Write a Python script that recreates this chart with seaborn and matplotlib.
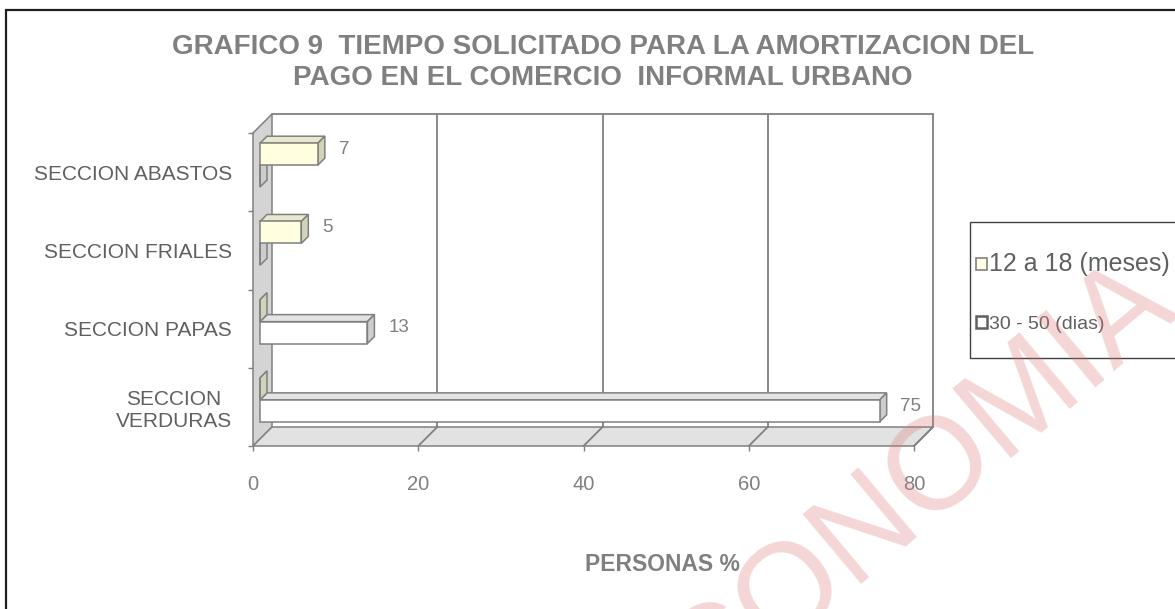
import matplotlib
matplotlib.use('Agg')  # sin pantalla
import matplotlib.pyplot as plt
import matplotlib.transforms as mtransforms
from matplotlib.patches import Polygon, Rectangle, Patch
from matplotlib.lines import Line2D
import pandas as pd
import seaborn as sns

# Datos del grafico
secciones = ['SECCION ABASTOS', 'SECCION FRIALES', 'SECCION PAPAS', 'SECCION\nVERDURAS']
series = ['12 a 18 (meses)', '30 - 50 (dias)']
valores_meses = [7, 5, 0, 0]
valores_dias = [0, 0, 13, 75]
ticks_x = [0, 20, 40, 60, 80]

titulo = 'GRAFICO 9  TIEMPO SOLICITADO PARA LA AMORTIZACION DEL\nPAGO EN EL COMERCIO  INFORMAL URBANO'
etiqueta_x = 'PERSONAS %'
marca_agua = 'ECONOMIA'

df = pd.DataFrame({
    'seccion': secciones * 2,
    'valor': valores_meses + valores_dias,
    'serie': [series[0]] * len(secciones) + [series[1]] * len(secciones),
})

sns.set_style('white')
plt.rcParams['font.family'] = ['Liberation Sans', 'DejaVu Sans']

# colores
amarillo, blanco = '#FFFFE0', '#FFFFFF'
techo = ['#E8E8CE', '#E3E3E3']
lado = ['#D3D3BA', '#CDCDCD']
borde = '#808080'
gris_txt = '#606060'

W, H = 1175, 609
fig = plt.figure(figsize=(W / 100, H / 100), dpi=100)
ax = fig.add_axes([253 / W, 1 - 446 / H, 661 / W, 313 / H])

sns.barplot(data=df, y='seccion', x='valor', hue='serie', orient='h',
            palette=[amarillo, blanco], saturation=1, width=0.56,
            edgecolor=borde, linewidth=1.1, legend=False, ax=ax)

ax.set_xlim(ticks_x[0], ticks_x[-1])
ax.set_ylim(len(secciones) - 0.5, -0.5)
y_min, y_max = -0.5, len(secciones) - 0.5

# profundidad (pixeles) del efecto 3D
D_MURO = 19
D0, D1 = 7, 14
ident = mtransforms.IdentityTransform()


def pt(x, y, d=0):
    px, py = ax.transData.transform((x, y))
    return (px + d, py + d)


def poly(puntos, fc, z, lw=1.1):
    ax.add_patch(Polygon(puntos, closed=True, fc=fc, ec=borde, lw=lw,
                         transform=ident, clip_on=False, zorder=z))


def linea(p0, p1, z, lw=1.3):
    ax.add_line(Line2D([p0[0], p1[0]], [p0[1], p1[1]], color=borde, lw=lw,
                       transform=ident, clip_on=False, zorder=z))


# pared izquierda y piso
poly([pt(0, y_min), pt(0, y_min, D_MURO), pt(0, y_max, D_MURO), pt(0, y_max)], '#D4D4D4', 0.5)
poly([pt(0, y_max), pt(ticks_x[-1], y_max), pt(ticks_x[-1], y_max, D_MURO), pt(0, y_max, D_MURO)], '#E2E2E2', 0.6)

# pared del fondo: bordes y lineas de division
linea(pt(0, y_min, D_MURO), pt(ticks_x[-1], y_min, D_MURO), 0.7)
for t in ticks_x[1:]:
    linea(pt(t, y_min, D_MURO), pt(t, y_max, D_MURO), 0.7)
    linea(pt(t, y_max), pt(t, y_max, D_MURO), 0.7)

# barras con caras superior y lateral
desplaza = mtransforms.ScaledTranslation(D0 / 100, D0 / 100, fig.dpi_scale_trans)
for i, (cont, vals) in enumerate(zip(ax.containers, [valores_meses, valores_dias])):
    z = 3 if i == 0 else 2
    for bar, v in zip(cont, vals):
        bar.set_transform(ax.transData + desplaza)
        bar.set_clip_on(False)
        bar.set_zorder(z + 0.2)
        x0, w = bar.get_x(), bar.get_width()
        y0, h = bar.get_y(), bar.get_height()
        poly([pt(x0, y0, D0), pt(x0 + w, y0, D0), pt(x0 + w, y0, D1), pt(x0, y0, D1)], techo[i], z)
        poly([pt(x0 + w, y0, D0), pt(x0 + w, y0 + h, D0), pt(x0 + w, y0 + h, D1), pt(x0 + w, y0, D1)], lado[i], z + 0.1)
        if v > 0:
            ax.annotate(f'{v:g}', xy=(x0 + w, y0 + h / 2), xytext=(20, 8.5),
                        textcoords='offset points', ha='left', va='center',
                        fontsize=13.5, color=borde, annotation_clip=False, zorder=5)

# ejes
ax.set_xticks(ticks_x)
ax.set_xticklabels([str(t) for t in ticks_x])
ax.set_yticks(range(len(secciones)))
ax.set_yticklabels(secciones)
ax.set_yticks([k - 0.5 for k in range(len(secciones) + 1)], minor=True)
ax.tick_params(axis='x', bottom=True, length=3.6, width=1, color=borde,
               labelcolor=borde, labelsize=14.5, pad=17)
ax.tick_params(axis='y', which='major', left=True, length=0, labelcolor=gris_txt,
               labelsize=15, pad=15)
ax.tick_params(axis='y', which='minor', left=True, length=3.6, width=1, color=borde)
for lab in ax.get_yticklabels():
    lab.set_multialignment('center')
sns.despine(ax=ax, left=True, bottom=True)
ax.set_ylabel('')
ax.set_xlabel(etiqueta_x, fontsize=16.5, fontweight='bold', color=borde)
ax.xaxis.set_label_coords((662 - 253) / 661, -(553 - 446) / 313)

fig.text(603 / W, 1 - 34 / H, titulo, ha='center', va='top', fontsize=20,
         fontweight='bold', color=borde, linespacing=1.25)

# leyenda
manijas = [Patch(fc=amarillo, ec=borde, lw=1.2), Patch(fc=blanco, ec=gris_txt, lw=1.8)]
leg = fig.legend(manijas, series, loc='upper left', bbox_to_anchor=(976 / W, 1 - 252 / H),
                 frameon=False, fontsize=14, handlelength=0.55, handleheight=0.55,
                 handletextpad=0.1, labelspacing=2.05, borderpad=0, borderaxespad=0)
leg.get_texts()[0].set_fontsize(18)
for t in leg.get_texts():
    t.set_color(gris_txt)
fig.add_artist(Rectangle((970 / W, 1 - 358 / H), (W + 20 - 970) / W, (358 - 222) / H,
                         transform=fig.transFigure, fill=False, ec='#404040', lw=1))

# marco exterior
fig.add_artist(Rectangle((6 / W, -0.05), 1.1, 1.05 - 10 / H, transform=fig.transFigure,
                         fill=False, ec='#202020', lw=1.6))

# marca de agua
fig.text(885 / W, 1 - 510 / H, marca_agua, rotation=40, fontsize=94, color='#E07878',
         alpha=0.3, ha='center', va='center', zorder=20)

fig.savefig('out.png', dpi=100)
plt.close()
